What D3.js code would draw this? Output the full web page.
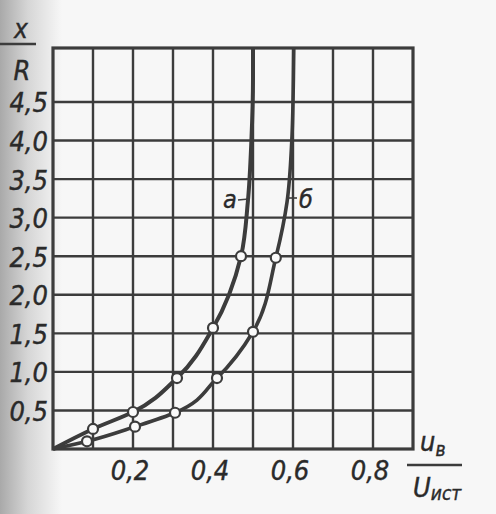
<!DOCTYPE html>
<html>
<head>
<meta charset="utf-8">
<script src="https://cdn.jsdelivr.net/npm/d3@7"></script>
<style>
  html, body { margin: 0; padding: 0; background: #f7f7f7; }
  svg { display: block; }
  text { font-family: "DejaVu Sans Condensed", "Liberation Sans Narrow", "DejaVu Sans", sans-serif; font-style: italic; fill: #2a2a2a; stroke: #2a2a2a; stroke-width: 0.4; }
</style>
</head>
<body>
<svg id="chart" width="496" height="514"></svg>
<script>
// ---- data ----
const xGridValues = [0.1, 0.2, 0.3, 0.4, 0.5, 0.6, 0.7, 0.8];
const yGridValues = [0.5, 1.0, 1.5, 2.0, 2.5, 3.0, 3.5, 4.0, 4.5];
const xTickValues = [0.2, 0.4, 0.6, 0.8];
const xTickLabels = ["0,2", "0,4", "0,6", "0,8"];
const yTickValues = [0.5, 1.0, 1.5, 2.0, 2.5, 3.0, 3.5, 4.0, 4.5];
const yTickLabels = ["0,5", "1,0", "1,5", "2,0", "2,5", "3,0", "3,5", "4,0", "4,5"];

// curve "а"
const curveAx = [0, 0.1, 0.2, 0.31, 0.40, 0.47, 0.487, 0.496, 0.5, 0.5];
const curveAy = [0, 0.26, 0.48, 0.92, 1.57, 2.5, 3.2, 4.0, 4.8, 5.2];
const markersAx = [0.1, 0.2, 0.31, 0.40, 0.47];
const markersAy = [0.26, 0.48, 0.92, 1.57, 2.5];

// curve "б"
const curveBx = [0, 0.085, 0.205, 0.305, 0.41, 0.50, 0.557, 0.585, 0.597, 0.601, 0.602];
const curveBy = [0, 0.10, 0.29, 0.47, 0.92, 1.52, 2.48, 3.2, 4.0, 4.8, 5.2];
const markersBx = [0.085, 0.205, 0.305, 0.41, 0.50, 0.557];
const markersBy = [0.10, 0.29, 0.47, 0.92, 1.52, 2.48];

// ---- drawing ----
const svg = d3.select("#chart");
const ink = "#3c3c3c";

// scan shading on the left edge
const defs = svg.append("defs");
const grad = defs.append("linearGradient").attr("id", "shade").attr("x1", "0").attr("x2", "1").attr("y1", "0").attr("y2", "0");
grad.append("stop").attr("offset", "0").attr("stop-color", "#a9a9a9");
grad.append("stop").attr("offset", "0.45").attr("stop-color", "#d6d6d6");
grad.append("stop").attr("offset", "1").attr("stop-color", "#f7f7f7");
svg.append("rect").attr("x", 0).attr("y", 0).attr("width", 62).attr("height", 514).attr("fill", "url(#shade)");

const x = d3.scaleLinear().domain([0, 0.9]).range([53, 413]);
const y = d3.scaleLinear().domain([0, 5.2]).range([449, 48]);

const g = svg.append("g");

// grid
g.selectAll("line.vg").data(xGridValues).join("line")
  .attr("x1", d => x(d)).attr("x2", d => x(d))
  .attr("y1", y(0)).attr("y2", y(5.2))
  .attr("stroke", ink).attr("stroke-width", 2.4);
g.selectAll("line.hg").data(yGridValues).join("line")
  .attr("y1", d => y(d)).attr("y2", d => y(d))
  .attr("x1", x(0)).attr("x2", x(0.9))
  .attr("stroke", ink).attr("stroke-width", 2.4);

// frame
g.append("rect")
  .attr("x", x(0)).attr("y", y(5.2))
  .attr("width", x(0.9) - x(0)).attr("height", y(0) - y(5.2))
  .attr("fill", "none").attr("stroke", ink).attr("stroke-width", 3.2);

// tick labels
g.selectAll("text.yt").data(yTickValues).join("text")
  .attr("x", 48).attr("y", d => y(d) + 3)
  .attr("text-anchor", "end").attr("dominant-baseline", "middle")
  .attr("font-size", 27)
  .text((d, i) => yTickLabels[i]);
g.selectAll("text.xt").data(xTickValues).join("text")
  .attr("x", d => x(d) - 3).attr("y", 480)
  .attr("text-anchor", "middle")
  .attr("font-size", 27)
  .text((d, i) => xTickLabels[i]);

// curves
const line = d3.line().x(d => x(d[0])).y(d => y(d[1])).curve(d3.curveMonotoneY);
const ptsA = curveAx.map((v, i) => [v, curveAy[i]]);
const ptsB = curveBx.map((v, i) => [v, curveBy[i]]);
g.append("path").attr("d", line(ptsA)).attr("fill", "none").attr("stroke", ink).attr("stroke-width", 4);
g.append("path").attr("d", line(ptsB)).attr("fill", "none").attr("stroke", ink).attr("stroke-width", 3.6);

// markers
const mA = markersAx.map((v, i) => [v, markersAy[i]]);
const mB = markersBx.map((v, i) => [v, markersBy[i]]);
g.selectAll("circle.ma").data(mA).join("circle")
  .attr("cx", d => x(d[0])).attr("cy", d => y(d[1])).attr("r", 5)
  .attr("fill", "#fafafa").attr("stroke", ink).attr("stroke-width", 2.2);
g.selectAll("circle.mb").data(mB).join("circle")
  .attr("cx", d => x(d[0])).attr("cy", d => y(d[1])).attr("r", 5)
  .attr("fill", "#fafafa").attr("stroke", ink).attr("stroke-width", 2.2);

// curve labels with leaders
g.append("text").attr("x", 230).attr("y", 208).attr("text-anchor", "middle").attr("font-size", 25).text("а");
g.append("line").attr("x1", 238).attr("x2", x(0.489)).attr("y1", 200).attr("y2", 199).attr("stroke", ink).attr("stroke-width", 1.6);
g.append("text").attr("x", 306).attr("y", 208).attr("text-anchor", "middle").attr("font-size", 25).text("б");
g.append("line").attr("x1", x(0.587)).attr("x2", 297).attr("y1", 198).attr("y2", 198).attr("stroke", ink).attr("stroke-width", 1.6);

// y axis title x/R
g.append("text").attr("x", 21).attr("y", 38).attr("text-anchor", "middle").attr("font-size", 26).text("x");
g.append("line").attr("x1", 0).attr("x2", 36).attr("y1", 44).attr("y2", 44).attr("stroke", ink).attr("stroke-width", 2.6);
g.append("text").attr("x", 22).attr("y", 80).attr("text-anchor", "middle").attr("font-size", 27).text("R");

// x axis title u_в / U_ист
const tnum = g.append("text").attr("x", 420).attr("y", 451).attr("font-size", 27);
tnum.append("tspan").text("u");
tnum.append("tspan").attr("font-size", 19).attr("dy", 5).text("в");
g.append("line").attr("x1", 407).attr("x2", 462).attr("y1", 465).attr("y2", 465).attr("stroke", ink).attr("stroke-width", 2.6);
const tden = g.append("text").attr("x", 413).attr("y", 497).attr("font-size", 27);
tden.append("tspan").text("U");
tden.append("tspan").attr("font-size", 19).attr("dy", 3).text("ист");
</script>
</body>
</html>
